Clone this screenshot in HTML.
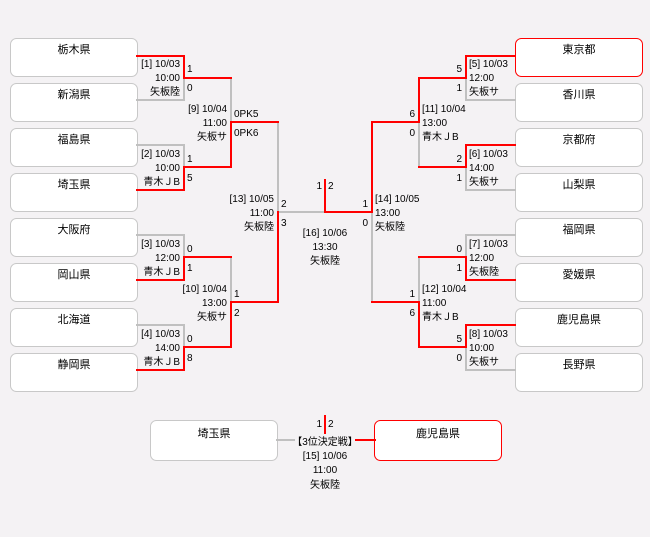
<!DOCTYPE html>
<html><head><meta charset="utf-8"><style>
body{margin:0;background:#f4f2f4;}
svg{display:block;font-family:"Liberation Sans","Noto Sans CJK JP",sans-serif;font-size:11px;}
</style></head><body>
<svg width="650" height="537" xmlns="http://www.w3.org/2000/svg">
<rect width="650" height="537" fill="#f4f2f4"/>
<g fill="#fff" stroke="#c8c8c8" stroke-width="1">
<rect x="10.5" y="38.5" width="127" height="38" rx="6"/>
<rect x="10.5" y="83.5" width="127" height="38" rx="6"/>
<rect x="10.5" y="128.5" width="127" height="38" rx="6"/>
<rect x="10.5" y="173.5" width="127" height="38" rx="6"/>
<rect x="10.5" y="218.5" width="127" height="38" rx="6"/>
<rect x="10.5" y="263.5" width="127" height="38" rx="6"/>
<rect x="10.5" y="308.5" width="127" height="38" rx="6"/>
<rect x="10.5" y="353.5" width="127" height="38" rx="6"/>
<rect x="515.5" y="83.5" width="127" height="38" rx="6"/>
<rect x="515.5" y="128.5" width="127" height="38" rx="6"/>
<rect x="515.5" y="173.5" width="127" height="38" rx="6"/>
<rect x="515.5" y="218.5" width="127" height="38" rx="6"/>
<rect x="515.5" y="263.5" width="127" height="38" rx="6"/>
<rect x="515.5" y="308.5" width="127" height="38" rx="6"/>
<rect x="515.5" y="353.5" width="127" height="38" rx="6"/>
<rect x="150.5" y="420.5" width="127" height="40" rx="6"/>
</g>
<g fill="#fff" stroke="#ff0000" stroke-width="1">
<rect x="515.5" y="38.5" width="127" height="38" rx="6"/>
<rect x="374.5" y="420.5" width="127" height="40" rx="6"/>
</g>
<g font-size="11" text-anchor="middle" fill="#000">
<text x="74" y="53">栃木県</text><text x="74" y="98">新潟県</text><text x="74" y="143">福島県</text><text x="74" y="188">埼玉県</text>
<text x="74" y="233">大阪府</text><text x="74" y="278">岡山県</text><text x="74" y="323">北海道</text><text x="74" y="368">静岡県</text>
<text x="579" y="53">東京都</text><text x="579" y="98">香川県</text><text x="579" y="143">京都府</text><text x="579" y="188">山梨県</text>
<text x="579" y="233">福岡県</text><text x="579" y="278">愛媛県</text><text x="579" y="323">鹿児島県</text><text x="579" y="368">長野県</text>
<text x="214" y="437">埼玉県</text><text x="438" y="437">鹿児島県</text>
</g>
<g fill="none" stroke-width="2" stroke-linecap="square">
<path stroke="#c0c0c0" d="M137 100H184V78 M137 145H184V167 M137 235H184V257 M137 325H184V347
M231 78V122 M231 257V302 M278 122V212H325 M372 212V302
M515 100H466V78 M515 190H466V167 M515 235H466V257 M515 370H466V347
M419 122V167 M419 257V302 M277 440H325"/>
<path stroke="#ff0000" d="M137 56H184V78H231 M137 190H184V167H231 M137 280H184V257H231 M137 370H184V347H231
M231 167V122H278 M231 347V302H278 M278 302V212
M515 56H466V78H419 M515 145H466V167H419 M515 280H466V257H419 M515 325H466V347H419
M419 78V122H372 M419 347V302H372 M372 122V212H325V180
M375 440H325V416"/>
</g>
<rect x="295" y="434" width="60" height="13" fill="#f4f2f4"/>
<g font-size="10" fill="#000" text-anchor="end">
<text x="180" y="67">[1] 10/03</text><text x="180" y="81">10:00</text><text x="180" y="95">矢板陸</text>
<text x="180" y="157">[2] 10/03</text><text x="180" y="171">10:00</text><text x="180" y="185">青木ＪB</text>
<text x="180" y="247">[3] 10/03</text><text x="180" y="261">12:00</text><text x="180" y="275">青木ＪB</text>
<text x="180" y="337">[4] 10/03</text><text x="180" y="351">14:00</text><text x="180" y="365">青木ＪB</text>
<text x="227" y="112">[9] 10/04</text><text x="227" y="126">11:00</text><text x="227" y="140">矢板サ</text>
<text x="227" y="292">[10] 10/04</text><text x="227" y="306">13:00</text><text x="227" y="320">矢板サ</text>
<text x="274" y="202">[13] 10/05</text><text x="274" y="216">11:00</text><text x="274" y="230">矢板陸</text>
<text x="462" y="72">5</text><text x="462" y="91">1</text>
<text x="462" y="162">2</text><text x="462" y="181">1</text>
<text x="462" y="252">0</text><text x="462" y="271">1</text>
<text x="462" y="342">5</text><text x="462" y="361">0</text>
<text x="415" y="117">6</text><text x="415" y="136">0</text>
<text x="415" y="297">1</text><text x="415" y="316">6</text>
<text x="368" y="207">1</text><text x="368" y="226">0</text>
<text x="322" y="189">1</text><text x="322" y="427">1</text>
</g>
<g font-size="10" fill="#000" text-anchor="start">
<text x="187" y="72">1</text><text x="187" y="91">0</text>
<text x="187" y="162">1</text><text x="187" y="181">5</text>
<text x="187" y="252">0</text><text x="187" y="271">1</text>
<text x="187" y="342">0</text><text x="187" y="361">8</text>
<text x="234" y="117">0PK5</text><text x="234" y="136">0PK6</text>
<text x="234" y="297">1</text><text x="234" y="316">2</text>
<text x="281" y="207">2</text><text x="281" y="226">3</text>
<text x="328" y="189">2</text><text x="328" y="427">2</text>
<text x="469" y="67">[5] 10/03</text><text x="469" y="81">12:00</text><text x="469" y="95">矢板サ</text>
<text x="469" y="157">[6] 10/03</text><text x="469" y="171">14:00</text><text x="469" y="185">矢板サ</text>
<text x="469" y="247">[7] 10/03</text><text x="469" y="261">12:00</text><text x="469" y="275">矢板陸</text>
<text x="469" y="337">[8] 10/03</text><text x="469" y="351">10:00</text><text x="469" y="365">矢板サ</text>
<text x="422" y="112">[11] 10/04</text><text x="422" y="126">13:00</text><text x="422" y="140">青木ＪB</text>
<text x="422" y="292">[12] 10/04</text><text x="422" y="306">11:00</text><text x="422" y="320">青木ＪB</text>
<text x="375" y="202">[14] 10/05</text><text x="375" y="216">13:00</text><text x="375" y="230">矢板陸</text>
</g>
<g font-size="10" fill="#000" text-anchor="middle">
<text x="325" y="236">[16] 10/06</text><text x="325" y="250">13:30</text><text x="325" y="264">矢板陸</text>
<text x="325" y="445">【3位決定戦】</text><text x="325" y="459">[15] 10/06</text><text x="325" y="473">11:00</text><text x="325" y="488">矢板陸</text>
</g>
</svg>
</body></html>
